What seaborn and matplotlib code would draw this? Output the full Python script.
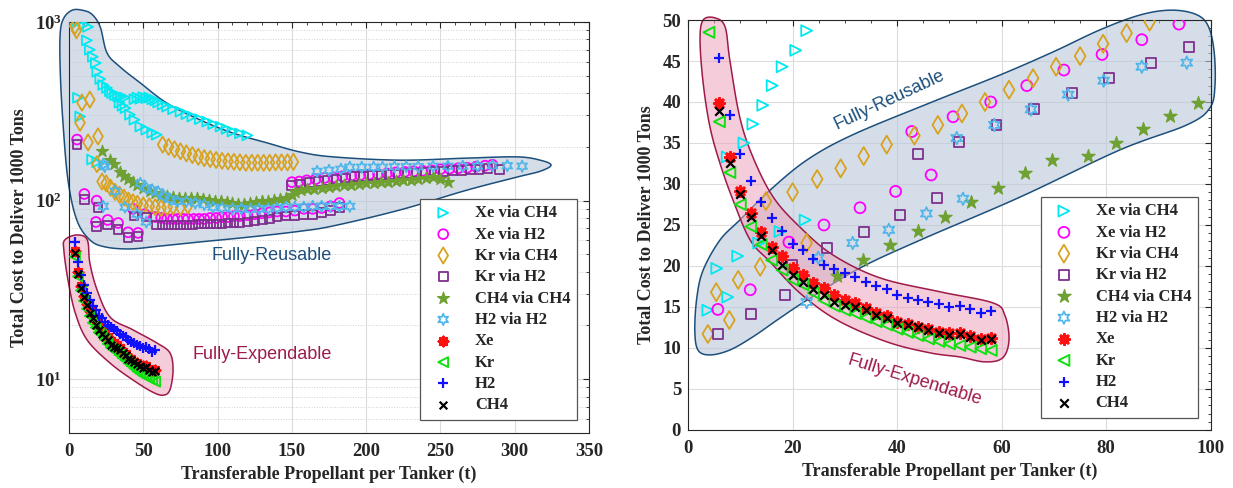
import numpy as np
import matplotlib
matplotlib.use("Agg")
import matplotlib.pyplot as plt
import seaborn as sns
from matplotlib.patches import Polygon
from matplotlib.ticker import MultipleLocator, LogLocator, NullFormatter

# ---------------- data ----------------
series_names = ["Xe via CH4", "Xe via H2", "Kr via CH4", "Kr via H2", "CH4 via CH4",
                "H2 via H2", "Xe", "Kr", "H2", "CH4"]

# Fully-expendable cases (same in both panels)
exp_x = [4, 6, 8, 10, 12, 14, 16, 18, 20, 22, 24, 26, 28, 30, 32, 34, 36, 38, 40, 42,
         44, 46, 48, 50, 52, 54, 56, 58]
exp_xe = [52.0, 39.9, 33.3, 29.1, 26.4, 24.1, 22.3, 21.2, 19.7, 18.9, 17.9, 17.3, 16.4, 15.9,
          15.5, 14.9, 14.3, 13.9, 13.2, 12.9, 12.5, 12.3, 12.0, 11.8, 11.8, 11.4, 11.1, 11.2]
exp_kr = [48.5, 37.6, 31.4, 27.5, 24.8, 22.6, 20.7, 19.5, 18.3, 17.7, 16.7, 15.8, 15.1, 14.6,
          14.2, 13.7, 13.2, 12.8, 12.3, 11.9, 11.5, 11.1, 10.8, 10.5, 10.3, 10.1, 9.9, 9.7]
exp_h2 = [59.0, 45.4, 38.4, 33.7, 30.4, 27.8, 25.8, 24.3, 22.7, 21.9, 20.9, 20.1, 19.6, 19.2,
          18.6, 18.0, 17.5, 17.2, 16.5, 16.1, 15.9, 15.6, 15.4, 15.0, 15.1, 14.7, 14.3, 14.5]
exp_ch4 = [51.0, 38.9, 32.5, 28.8, 26.0, 23.6, 21.9, 20.1, 18.9, 18.0, 17.2, 16.5, 15.6, 15.2,
           15.0, 14.6, 14.0, 13.7, 13.0, 12.8, 12.5, 12.2, 11.8, 11.6, 11.7, 11.3, 11.0, 11.1]

# Left panel, fully-reusable cases
L_xech4_x = [3, 6, 10, 12.8, 12, 14, 16, 18, 19, 21, 23, 25.5, 27.5, 29, 31, 33, 35, 37.5,
             6, 7.5, 15.5, 19, 34, 36, 38, 41, 44, 48, 52, 56, 59,
             44, 46, 48, 50, 52, 54, 56, 58, 60, 63, 66, 70, 75, 79, 83, 88, 93, 97, 102,
             106, 110, 115, 120]
L_xech4_y = [1000, 1000, 970, 940, 790, 700, 640, 590, 527, 480, 445, 428, 410, 400, 390, 385,
             382, 378, 377, 296, 170, 164, 354, 340, 330, 303, 284, 260, 250, 240, 234,
             370, 378, 372, 380, 375, 378, 370, 365, 355, 345, 336, 325, 315, 305, 296, 286,
             277, 268, 260, 252, 244, 238, 232]
L_xeh2_x = [5.4, 10.3, 18.6, 18.1, 26, 33, 39.7, 46.4, 43, 51, 58, 62, 66, 70, 73, 77, 80, 84,
            87.5, 91, 95, 99, 103, 107, 111, 115, 120, 125, 130, 135, 140, 146, 152, 158, 164,
            170, 176, 182,
            150, 155, 160, 166, 172, 178, 184, 190, 196, 202, 208, 214, 220, 226, 232, 238,
            244, 250, 256, 262, 268, 274, 280, 285]
L_xeh2_y = [220, 109, 100, 76, 78, 75, 66.5, 66, 90, 84, 81, 80, 79, 79, 79, 79, 79, 79, 79, 79,
            80, 80, 81, 81, 82, 82, 83, 84, 85, 86, 87, 87, 88, 90, 90, 91, 93, 97,
            127, 128, 130, 132, 134, 135, 137, 138, 139, 140, 141, 142, 144, 145, 146, 147,
            148, 150, 151, 152, 153, 155, 157, 159]
L_krch4_x = [4, 5, 8.7, 14, 7.4, 12.8, 19.5, 18.8, 22.2, 25, 28, 31, 34, 37, 40, 43, 46, 50,
             54, 58, 62, 66, 70, 75, 80,
             63, 67, 71, 75, 79, 83, 87, 91, 95, 99, 103, 107, 111, 115, 119, 123, 127, 131,
             135, 139, 143, 147, 151]
L_krch4_y = [950, 900, 354, 368, 273, 212, 229, 160, 128, 125, 118, 112, 108, 104, 100, 98, 96,
             94, 93, 92, 91, 92, 93, 92, 94,
             206, 200, 194, 189, 184, 180, 176, 173, 171, 169, 167, 166, 165, 164, 163, 163,
             163, 163, 163, 164, 164, 164, 165]
L_krh2_x = [5.4, 10.3, 19.5, 18.7, 26, 33, 39.7, 46.4, 43.7, 52, 59, 63, 67, 71, 75, 79, 83, 87,
            91, 95, 99, 103, 107, 111, 115, 120, 125, 130, 135, 140, 146, 152, 158, 164, 170,
            176, 182,
            150, 156, 162, 168, 174, 180, 186, 192, 198, 204, 210, 216, 222, 228, 234, 240,
            246, 252, 258, 264, 270, 276, 282, 290]
L_krh2_y = [206, 102, 92, 72, 73, 69, 62.5, 63, 82, 81, 73, 73, 73, 73, 73, 73, 73, 74, 74, 74,
            74, 74, 75, 75, 75, 76, 77, 78, 79, 81, 82, 83, 84, 84, 86, 88, 92,
            122, 124, 126, 128, 130, 132, 134, 136, 137, 138, 139, 140, 141, 142, 143, 144,
            145, 146, 147, 148, 149, 150, 151, 150]
L_ch4_x = [22, 27.6, 30, 34, 37, 40, 43, 46, 50, 54.5, 58, 62, 66, 70, 74, 78, 82, 86, 90, 94,
           98, 102, 106, 110, 114, 118, 122, 126, 130, 134, 138, 142, 146, 150,
           152, 156, 160, 165, 170, 175, 180, 185, 190, 195, 200, 205, 210, 215, 220, 225,
           230, 235, 240, 245, 250, 255]
L_ch4_y = [189, 170, 160, 144, 138, 132, 127, 122, 118, 113, 111, 108, 106, 105, 104, 103, 103,
           104, 102, 101, 100, 99, 98, 97, 96, 96, 97, 98, 99, 100, 101, 102, 104, 108,
           112, 115, 116, 117, 118, 120, 121, 122, 123, 124, 125, 126, 127, 128, 129, 130,
           131, 132, 134, 135, 133, 128]
L_h2_x = [23, 24, 31, 23, 37.7, 45.8, 52, 48, 52, 56, 60, 64, 68, 73, 79, 85, 91, 97, 103, 110,
          116, 122, 128, 134, 140, 146, 152, 158, 164, 170, 176, 182, 189,
          167, 175, 183, 189, 197, 205, 211, 219, 227, 235, 245, 255, 265, 275, 285, 295, 305]
L_h2_y = [160, 155, 113, 93, 92, 84, 76, 125, 118, 115, 112, 106, 102, 99, 99, 97, 95, 92, 91,
          90, 90, 89.5, 90, 90, 91, 92, 92, 92, 93, 93, 93, 93, 93,
          146, 148, 150, 154, 154, 154, 154, 155, 155, 155, 156, 156, 156, 156, 157, 157, 156]

# Right panel, fully-reusable cases
R_xech4_x = [3.8, 5.5, 7.6, 7.5, 9.5, 10.7, 12.4, 13.5, 14.3, 16.1, 17.6, 18.0, 20.6, 22.4, 22.7]
R_xech4_y = [14.6, 19.7, 16.2, 33.3, 21.2, 35.0, 37.3, 22.8, 39.6, 42.0, 24.2, 44.3, 46.3, 25.6, 48.7]
R_xeh2_x = [5.7, 11.9, 19.3, 26.0, 32.9, 39.7, 46.5,
            42.8, 50.7, 57.9, 64.8, 71.9, 79.2, 86.8, 93.9]
R_xeh2_y = [14.7, 17.1, 22.9, 25.0, 27.1, 29.1, 31.1,
            36.4, 38.2, 40.0, 42.0, 43.9, 45.8, 47.6, 49.5]
R_krch4_x = [3.8, 5.4, 7.9, 9.6, 13.8, 22.7,
             14.9, 20.0, 24.7, 29.2, 33.6, 38.0, 43.3, 47.8, 52.4, 56.8, 61.4, 66.0, 70.4,
             75.0, 79.4, 83.9, 88.3]
R_krch4_y = [11.7, 16.8, 13.4, 18.3, 19.9, 22.8,
             27.9, 29.0, 30.6, 31.9, 33.4, 34.8, 35.9, 37.2, 38.6, 40.0, 41.5, 42.9, 44.3,
             45.6, 47.1, 48.4, 49.8]
R_krh2_x = [5.8, 12.0, 18.5, 19.9, 26.6, 33.6, 40.5, 47.6,
            44.0, 51.9, 59.0, 66.2, 73.4, 80.5, 88.5, 95.8]
R_krh2_y = [11.7, 14.1, 16.5, 20.1, 22.2, 24.1, 26.2, 28.3,
            33.7, 35.1, 37.2, 39.1, 41.1, 42.9, 44.8, 46.7]
R_ch4_x = [28.5, 33.5, 38.7, 43.9, 49.1, 54.2, 59.3, 64.4, 69.6, 76.5, 81.8, 87.0, 92.2, 97.5]
R_ch4_y = [18.8, 20.7, 22.5, 24.3, 26.0, 27.8, 29.5, 31.3, 32.9, 33.4, 35.0, 36.7, 38.3, 39.9]
R_h2_x = [22.7, 24.9, 31.5, 38.4, 45.6, 52.6,
          51.4, 58.6, 65.6, 72.7, 79.5, 86.8, 95.4]
R_h2_y = [15.6, 21.0, 22.8, 24.4, 26.4, 28.2,
          35.6, 37.2, 39.1, 40.9, 42.6, 44.3, 44.8]

left_data = {
    "Xe via CH4": (L_xech4_x, L_xech4_y), "Xe via H2": (L_xeh2_x, L_xeh2_y),
    "Kr via CH4": (L_krch4_x, L_krch4_y), "Kr via H2": (L_krh2_x, L_krh2_y),
    "CH4 via CH4": (L_ch4_x, L_ch4_y), "H2 via H2": (L_h2_x, L_h2_y),
    "Xe": (exp_x, exp_xe), "Kr": (exp_x, exp_kr), "H2": (exp_x, exp_h2), "CH4": (exp_x, exp_ch4),
}
right_data = {
    "Xe via CH4": (R_xech4_x, R_xech4_y), "Xe via H2": (R_xeh2_x, R_xeh2_y),
    "Kr via CH4": (R_krch4_x, R_krch4_y), "Kr via H2": (R_krh2_x, R_krh2_y),
    "CH4 via CH4": (R_ch4_x, R_ch4_y), "H2 via H2": (R_h2_x, R_h2_y),
    "Xe": (exp_x, exp_xe), "Kr": (exp_x, exp_kr), "H2": (exp_x, exp_h2), "CH4": (exp_x, exp_ch4),
}

# ---------------- styles ----------------
STYLE = {
    "Xe via CH4": dict(color="#00e8f0", marker=">", fill="none", lw=1.3, k=1.0),
    "Xe via H2": dict(color="#ff00ff", marker="o", fill="none", lw=1.3, k=1.0),
    "Kr via CH4": dict(color="#d9a21e", marker="d", fill="none", lw=1.3, k=1.35),
    "Kr via H2": dict(color="#7e2f8e", marker="s", fill="none", lw=1.3, k=0.8),
    "CH4 via CH4": dict(color="#6fa132", marker="*", fill="solid", lw=0.9, k=1.6),
    "H2 via H2": dict(color="#4db5ea", marker=(6, 1, 0), fill="none", lw=1.2, k=1.35),
    "Xe": dict(color="#ff1010", marker=(8, 2, 0), fill="line", lw=2.2, k=0.8),
    "Kr": dict(color="#10e010", marker="<", fill="none", lw=1.4, k=1.0),
    "H2": dict(color="#1010ff", marker="+", fill="line", lw=1.6, k=1.0),
    "CH4": dict(color="#000000", marker="x", fill="line", lw=1.6, k=0.6),
}

sns.set_theme(style="white")
plt.rcParams['font.family'] = ['Liberation Serif', 'DejaVu Serif']
plt.rcParams['font.weight'] = 'bold'
plt.rcParams['mathtext.fontset'] = 'custom'
plt.rcParams['mathtext.rm'] = 'Liberation Serif:bold'
plt.rcParams['mathtext.bf'] = 'Liberation Serif:bold'
plt.rcParams['mathtext.it'] = 'Liberation Serif:bold'
plt.rcParams['mathtext.default'] = 'rm'

fig = plt.figure(figsize=(12.33, 4.88), dpi=100)
axL = fig.add_axes([0.056, 0.1127, 0.4217, 0.842])
axR = fig.add_axes([0.558, 0.119, 0.424, 0.840])


def smooth_closed(pts, n=12):
    P = np.asarray(pts, dtype=float)
    m = len(P)
    out = []
    for i in range(m):
        p0, p1, p2, p3 = P[i - 1], P[i], P[(i + 1) % m], P[(i + 2) % m]
        for t in np.linspace(0, 1, n, endpoint=False):
            out.append(0.5 * ((2 * p1) + (-p0 + p2) * t + (2 * p0 - 5 * p1 + 4 * p2 - p3) * t * t
                              + (-p0 + 3 * p1 - 3 * p2 + p3) * t ** 3))
    return np.array(out)


BLUE_FACE = (0.73, 0.79, 0.85, 0.6)
BLUE_EDGE = "#1d4f7c"
PINK_FACE = (0.93, 0.64, 0.73, 0.55)
PINK_EDGE = "#9e1a4c"

# region outlines in axes-fraction coordinates
reuse_left = [(-0.017, 0.973), (-0.010, 1.010), (0.006, 1.029), (0.025, 1.029), (0.044, 1.019),
              (0.060, 0.988), (0.073, 0.925), (0.098, 0.891), (0.137, 0.852), (0.188, 0.803),
              (0.252, 0.762), (0.315, 0.730), (0.381, 0.706), (0.444, 0.684), (0.508, 0.672),
              (0.637, 0.664), (0.765, 0.669), (0.862, 0.672), (0.906, 0.664), (0.927, 0.652),
              (0.906, 0.637), (0.862, 0.623), (0.765, 0.591), (0.637, 0.543), (0.508, 0.504),
              (0.444, 0.491), (0.348, 0.477), (0.252, 0.465), (0.175, 0.455), (0.117, 0.448),
              (0.069, 0.453), (0.040, 0.470), (0.015, 0.518), (-0.002, 0.615), (-0.012, 0.761),
              (-0.017, 0.883)]
exp_left = [(-0.008, 0.470), (0.015, 0.482), (0.035, 0.470), (0.040, 0.414), (0.054, 0.348),
            (0.079, 0.282), (0.123, 0.251), (0.169, 0.219), (0.194, 0.195), (0.200, 0.153),
            (0.194, 0.105), (0.181, 0.092), (0.160, 0.100), (0.123, 0.129), (0.079, 0.170),
            (0.035, 0.226), (0.012, 0.292), (-0.002, 0.372), (-0.010, 0.445)]
reuse_right = [(0.013, 0.244), (0.017, 0.324), (0.029, 0.390), (0.061, 0.463), (0.099, 0.512),
               (0.157, 0.585), (0.228, 0.659), (0.315, 0.720), (0.463, 0.798), (0.597, 0.866),
               (0.698, 0.922), (0.788, 0.976), (0.864, 1.012), (0.922, 1.024), (0.969, 1.015),
               (0.994, 0.988), (1.006, 0.927), (1.008, 0.841), (0.998, 0.785), (0.954, 0.744),
               (0.826, 0.683), (0.635, 0.568), (0.444, 0.463), (0.329, 0.395), (0.228, 0.317),
               (0.176, 0.273), (0.124, 0.227), (0.080, 0.195), (0.042, 0.183), (0.019, 0.195)]
exp_right = [(0.029, 1.000), (0.052, 1.005), (0.071, 0.983), (0.080, 0.902), (0.099, 0.763),
             (0.124, 0.666), (0.163, 0.568), (0.214, 0.495), (0.277, 0.427), (0.367, 0.371),
             (0.482, 0.337), (0.583, 0.310), (0.606, 0.280), (0.614, 0.220), (0.602, 0.176),
             (0.568, 0.166), (0.520, 0.178), (0.463, 0.188), (0.380, 0.215), (0.285, 0.268),
             (0.214, 0.334), (0.157, 0.410), (0.119, 0.463), (0.086, 0.561), (0.061, 0.651),
             (0.042, 0.739), (0.029, 0.846), (0.023, 0.951)]


def add_region(ax, pts, face, edge):
    poly = Polygon(smooth_closed(pts), closed=True, transform=ax.transAxes, facecolor=face,
                   edgecolor=edge, linewidth=1.1, zorder=1, clip_on=False)
    ax.add_patch(poly)


def draw_series(ax, data, size):
    for name in series_names:
        x, y = data[name]
        st = STYLE[name]
        kw = dict(x=x, y=y, ax=ax, marker=st["marker"], s=size * st["k"], linewidth=st["lw"],
                  label=name, zorder=3, legend=False)
        if st["fill"] == "none":
            kw.update(color=st["color"], facecolor="none", edgecolor=st["color"])
        elif st["fill"] == "line":
            kw.update(color=st["color"])
        else:
            kw.update(color=st["color"], edgecolor=st["color"])
        sns.scatterplot(**kw)


for ax in (axL, axR):
    ax.set_facecolor("white")
    for sp in ax.spines.values():
        sp.set_color("#262626")
        sp.set_linewidth(0.8)

# ---- left panel ----
axL.set_yscale("log")
add_region(axL, reuse_left, BLUE_FACE, BLUE_EDGE)
add_region(axL, exp_left, PINK_FACE, PINK_EDGE)
draw_series(axL, left_data, 50)
axL.set_xlim(0, 350)
axL.set_ylim(5, 1000)
axL.xaxis.set_major_locator(MultipleLocator(50))
axL.xaxis.set_minor_locator(MultipleLocator(10))
axL.yaxis.set_major_locator(LogLocator(base=10, numticks=10))
axL.yaxis.set_minor_locator(LogLocator(base=10, subs=np.arange(2, 10), numticks=20))
axL.yaxis.set_minor_formatter(NullFormatter())
axL.grid(True, which="major", color="#dcdcdc", linewidth=0.8, linestyle="-")
axL.grid(True, which="minor", axis="y", color="#d0d0d0", linewidth=0.7, linestyle=":")
axL.text(0.390, 0.431, "Fully-Reusable", transform=axL.transAxes, ha="center", va="center",
         color="#1d4f7c", fontsize=13, family="Liberation Sans", fontweight="normal")
axL.text(0.371, 0.192, "Fully-Expendable", transform=axL.transAxes, ha="center", va="center",
         color="#9e1a4c", fontsize=13, family="Liberation Sans", fontweight="normal")

# ---- right panel ----
add_region(axR, reuse_right, BLUE_FACE, BLUE_EDGE)
add_region(axR, exp_right, PINK_FACE, PINK_EDGE)
draw_series(axR, right_data, 62)
axR.set_xlim(0, 100)
axR.set_ylim(0, 50)
axR.xaxis.set_major_locator(MultipleLocator(20))
axR.xaxis.set_minor_locator(MultipleLocator(5))
axR.yaxis.set_major_locator(MultipleLocator(5))
axR.yaxis.set_minor_locator(MultipleLocator(1))
axR.grid(True, which="major", color="#dcdcdc", linewidth=0.8, linestyle="-")
axR.text(0.386, 0.805, "Fully-Reusable", transform=axR.transAxes, ha="center", va="center",
         color="#1d4f7c", fontsize=13, family="Liberation Sans", fontweight="normal",
         rotation=25)
axR.text(0.434, 0.122, "Fully-Expendable", transform=axR.transAxes, ha="center", va="center",
         color="#9e1a4c", fontsize=13, family="Liberation Sans", fontweight="normal",
         rotation=-17)

for ax, anchor in ((axL, (0.977, 0.032)), (axR, (0.975, 0.029))):
    ax.set_axisbelow(True)
    ax.tick_params(which="both", direction="in", top=True, right=True, colors="#262626",
                   labelcolor="#262626", labelsize=13.5)
    ax.tick_params(which="major", length=4.5, width=0.8)
    ax.tick_params(which="minor", length=2.5, width=0.6)
    ax.tick_params(axis="x", pad=7)
    ax.tick_params(axis="y", pad=5)
    ax.set_xlabel("Transferable Propellant per Tanker (t)", fontsize=13, fontweight="bold",
                  color="#262626", labelpad=4)
    ax.set_ylabel("Total Cost to Deliver 1000 Tons", fontsize=13, fontweight="bold",
                  color="#262626", labelpad=5)
    leg = ax.legend(loc="lower right", bbox_to_anchor=anchor, borderaxespad=0, frameon=True,
                    fancybox=False, edgecolor="#555555", framealpha=1, scatterpoints=1,
                    prop={"family": "Liberation Serif", "weight": "bold", "size": 12},
                    labelspacing=0.32, handlelength=2.0, handletextpad=0.9, borderpad=0.4)
    leg.get_frame().set_linewidth(0.9)
    leg.set_zorder(10)

fig.savefig("out.png", dpi=100, facecolor="white")
